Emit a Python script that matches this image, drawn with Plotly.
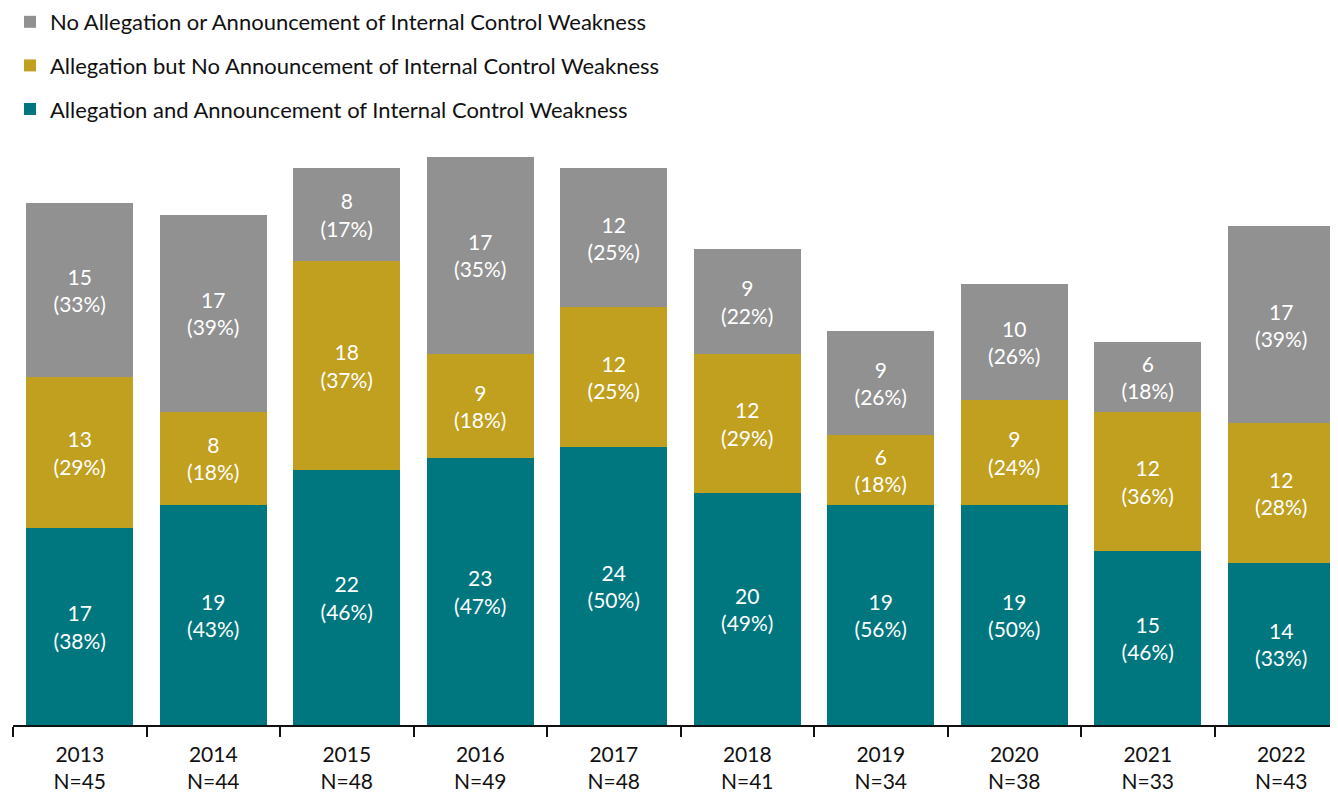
import plotly.graph_objects as go

years = ["2013", "2014", "2015", "2016", "2017", "2018", "2019", "2020", "2021", "2022"]
totals = [45, 44, 48, 49, 48, 41, 34, 38, 33, 43]

both_vals = [17, 19, 22, 23, 24, 20, 19, 19, 15, 14]
both_pct = [38, 43, 46, 47, 50, 49, 56, 50, 46, 33]

alleg_vals = [13, 8, 18, 9, 12, 12, 6, 9, 12, 12]
alleg_pct = [29, 18, 37, 18, 25, 29, 18, 24, 36, 28]

none_vals = [15, 17, 8, 17, 12, 9, 9, 10, 6, 17]
none_pct = [33, 39, 17, 35, 25, 22, 26, 26, 18, 39]

names = [
    "Allegation and Announcement of Internal Control Weakness",
    "Allegation but No Announcement of Internal Control Weakness",
    "No Allegation or Announcement of Internal Control Weakness",
]
colors = ["#00777F", "#C19F1F", "#919191"]

xlabels = [f"{y}<br>N={n}" for y, n in zip(years, totals)]

FONT = "Lato"
TXT = "#111111"

fig = go.Figure()
for i, (vals, pcts) in enumerate([(both_vals, both_pct), (alleg_vals, alleg_pct), (none_vals, none_pct)]):
    fig.add_trace(go.Bar(
        x=xlabels,
        y=vals,
        name=names[i],
        marker=dict(color=colors[i], line=dict(width=0)),
        text=[f"{v}<br>({p}%)" for v, p in zip(vals, pcts)],
        textposition="inside",
        insidetextanchor="middle",
        textangle=0,
        constraintext="none",
        textfont=dict(color="white", size=21, family=FONT),
        legendgroup=f"g{i}",
        legendrank=3 - i,
    ))

# page body adds an 8px offset; margins compensate
fig.update_layout(
    barmode="stack",
    bargap=0.2,
    width=1338,
    height=794,
    margin=dict(l=5, r=0, t=137, b=77, autoexpand=False),
    paper_bgcolor="white",
    plot_bgcolor="white",
    font=dict(family=FONT, size=21, color=TXT),
    showlegend=True,
    legend=dict(
        traceorder="grouped",
        orientation="v",
        xref="container", x=2 / 1338, xanchor="left",
        yref="paper", y=1 + 144 / 580, yanchor="top",
        font=dict(size=22, family=FONT, color=TXT),
        tracegroupgap=12,
        itemclick=False,
        bgcolor="rgba(0,0,0,0)",
    ),
)

fig.update_xaxes(
    type="category",
    range=[-0.5, 9.485],
    showline=True,
    linecolor=TXT,
    linewidth=1.5,
    ticks="outside",
    tickson="boundaries",
    ticklen=10,
    tickcolor=TXT,
    tickwidth=1.5,
    ticklabelstandoff=10,
    tickfont=dict(size=21, family=FONT, color=TXT),
    showgrid=False,
)
fig.update_yaxes(
    range=[0, 50],
    visible=False,
    showgrid=False,
)

fig.write_html("out.html")
